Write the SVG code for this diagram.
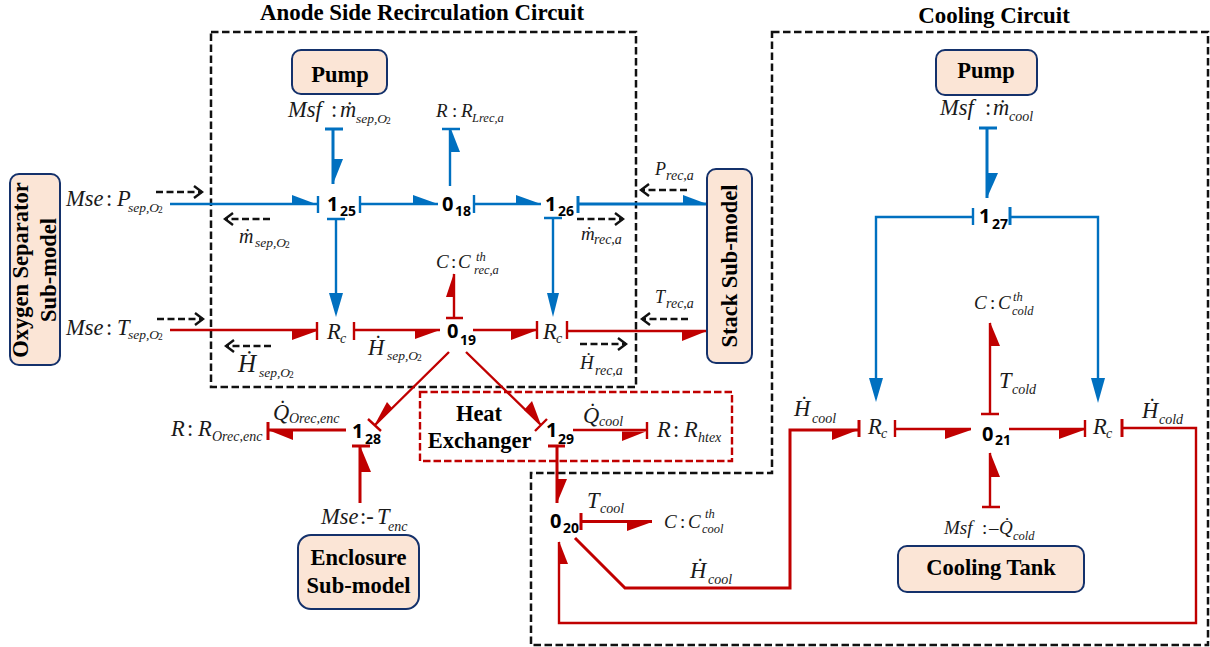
<svg xmlns="http://www.w3.org/2000/svg" width="1210" height="647" viewBox="0 0 1210 647">
<style>
text{font-family:"Liberation Serif","Times New Roman",serif;fill:#1a1a1a}
.box{fill:#fbe5d6;stroke:#14316b;stroke-width:2}
.t{font-size:22.5px;font-weight:bold;fill:#000;text-anchor:middle}
.h{font-size:22.9px}
.dash{fill:none;stroke:#111;stroke-width:2.5;stroke-dasharray:7.5 3.5}
.hx{fill:none;stroke:#c00000;stroke-width:2.4;stroke-dasharray:7.5 3}
.j{font-family:"Noto Sans","Open Sans",sans-serif;font-weight:bold;font-size:20px;fill:#000}
.j tspan{font-size:14px}
.i{font-style:italic;font-size:22.5px}
.sm{font-style:italic;font-size:14px}
.n{font-style:normal}
.s{font-size:13.5px}
.o{font-size:9.5px;font-style:normal}
.b{fill:none;stroke:#0070c0;stroke-width:2.4}
.bt{stroke-width:3}
.r{fill:none;stroke:#c00000;stroke-width:2.4}
.rt{stroke-width:3}
.bf{fill:#0070c0;stroke:none}
.rf{fill:#c00000;stroke:none}
.sig{fill:none;stroke:#111;stroke-width:2.4;stroke-dasharray:7 3.5;marker-end:url(#chev)}
</style>
<defs>
<marker id="chev" markerUnits="userSpaceOnUse" markerWidth="14" markerHeight="16" refX="11" refY="7" orient="auto" viewBox="0 0 14 14">
<path d="M3 1L11 7L3 13" fill="none" stroke="#111" stroke-width="2.4"/>
</marker>
</defs>

<g id="boundaries">
<rect class="dash" x="211" y="32" width="425" height="355"/>
<path class="dash" d="M772 32H1208V645H531V473H772Z"/>
<rect class="hx" x="420" y="392" width="312" height="69"/>
<text class="t h" x="422" y="20">Anode Side Recirculation Circuit</text>
<text class="t h" x="994" y="23">Cooling Circuit</text>
</g>

<g id="connectors">
<path class="b" d="M170 204H318M318 196V213"/><path class="bf" d="M292 195L316 204H292Z"/>
<path class="b bt" d="M333 129V184M325 129H343"/><path class="bf" d="M333 184L343 159H334Z"/>
<path class="b" d="M360 204H438M360 196V213"/><path class="bf" d="M413 195L438 204H413Z"/>
<path class="b" d="M474 204H541M474 195V213"/><path class="bf" d="M516 195L541 204H516Z"/>
<path class="b bt" d="M578 204H707M578 196V213"/><path class="bf" d="M683 195L707 204H683Z"/>
<path class="b" d="M336 219V295M327 219H345"/><path class="bf" d="M329 293H343L336 317Z"/>
<path class="b" d="M553 218V295M544 218H562"/><path class="bf" d="M547 293H559L553 317Z"/>
<path class="b" d="M450 186V129M442 129H460"/><path class="bf" d="M451 129L460 152H451Z"/>
<path class="r" d="M170 330H317M317 322V340"/><path class="rf" d="M292 331L317 331L292 340Z"/>
<path class="r" d="M354 330H440M354 322V340"/><path class="rf" d="M415 331L440 330L415 339Z"/>
<path class="r" d="M454 318V274M446 318H463"/><path class="rf" d="M454 273V297H446Z"/>
<path class="r" d="M473 330H537M537 321V339"/><path class="rf" d="M511 331H535L511 340Z"/>
<path class="r" d="M567 331H707M567 321V339"/><path class="rf" d="M682 332L707 331L682 341Z"/>
<path class="r" d="M449 352L374 426M368 419L381 431"/><path class="rf" d="M374 426L387 402L392 408Z"/>
<path class="r" d="M466 352L541 425M535 431L547 419"/><path class="rf" d="M541 425L532 401L524 410Z"/>
<path class="r rt" d="M346 430H268M268 422V440"/><path class="rf" d="M268 430L293 440V430Z"/>
<path class="r rt" d="M360 503V446M352 446H370"/><path class="rf" d="M361 448L371 472H361Z"/>
<path class="r" d="M573 430H647M647 422V439"/><path class="rf" d="M622 431.5H646L622 441Z"/>
<path class="r rt" d="M557 503V446M548 446H565"/><path class="rf" d="M557 503L567 479H557Z"/>
<path class="r rt" d="M581 521.500H652M581 513V530"/><path class="rf" d="M627 523L652 522L627 531Z"/>
<path class="r rt" d="M575 538L625 588H790V430H859M859 420V437"/><path class="rf" d="M832 431L858 430L832 440Z"/>
<path class="r" d="M1122 428H1196V623H559V542"/><path class="r rt" d="M1122 419V437"/><path class="rf" d="M559 541L568 564H559Z"/>
<path class="r" d="M895 429H971M895 420V437"/><path class="rf" d="M945 439L971 430H945Z"/>
<path class="r" d="M1009 429H1085M1085 420V437"/><path class="rf" d="M1059 430H1084L1059 439Z"/>
<path class="r" d="M990 414V323M981 414H999"/><path class="rf" d="M990 322L1000 346H990Z"/>
<path class="r" d="M990 507V453M982 507H1000"/><path class="rf" d="M990 452L1000 477H990Z"/>
<path class="b bt" d="M987 128V198M979 128H997"/><path class="bf" d="M987 198L998 173H987Z"/>
<path class="b" d="M973 217H876V380M973 208V225"/><path class="bf" d="M869 378H883L876 402Z"/>
<path class="b" d="M1010 217H1098V380"/><path class="b bt" d="M1010 207V225"/><path class="bf" d="M1091 378H1105L1098 403Z"/>
<path class="sig" d="M156 192H202"/>
<path class="sig" d="M270 219H225"/>
<path class="sig" d="M157 319H203"/>
<path class="sig" d="M271 346H226"/>
<path class="sig" d="M687 190H641"/>
<path class="sig" d="M577 219H623"/>
<path class="sig" d="M688 319H642"/>
<path class="sig" d="M580 344H626"/>
</g>

<g id="oxygen-separator"><rect class="box" x="10" y="174" width="50" height="191" rx="9"/>
<text class="t" transform="translate(28 270) rotate(-90)">Oxygen Separator</text>
<text class="t" transform="translate(56 270) rotate(-90)">Sub-model</text></g>
<g id="stack"><rect class="box" x="707" y="169" width="45" height="194" rx="9"/>
<text class="t" transform="translate(737 266) rotate(-90)">Stack Sub-model</text></g>
<g id="pump-anode"><rect class="box" x="292" y="50" width="95" height="44" rx="9"/>
<text class="t" x="340" y="82">Pump</text></g>
<g id="pump-cooling"><rect class="box" x="936" y="50" width="101" height="45" rx="9"/>
<text class="t" x="986" y="78">Pump</text></g>
<g id="enclosure"><rect class="box" x="298" y="535" width="121" height="74" rx="13"/>
<text class="t" x="358.500" y="565">Enclosure</text><text class="t" x="358.500" y="593">Sub-model</text></g>
<g id="cooling-tank"><rect class="box" x="898" y="546" width="186" height="46" rx="9"/>
<text class="t" x="991" y="575">Cooling Tank</text></g>
<g id="heat-exchanger"><text class="t" x="479" y="421">Heat</text><text class="t" x="479.500" y="448">Exchanger</text></g>

<g id="j125"><text class="j" x="327" y="211">1<tspan x="340" y="216">25</tspan></text></g>
<g id="j018"><text class="j" x="442" y="211">0<tspan x="455" y="216">18</tspan></text></g>
<g id="j126"><text class="j" x="545" y="211">1<tspan x="558" y="216">26</tspan></text></g>
<g id="j019"><text class="j" x="447" y="338">0<tspan x="460" y="345">19</tspan></text></g>
<g id="j128"><text class="j" x="352" y="438">1<tspan x="365" y="444">28</tspan></text></g>
<g id="j129"><text class="j" x="546" y="437">1<tspan x="558" y="444">29</tspan></text></g>
<g id="j020"><text class="j" x="550" y="528">0<tspan x="563" y="533">20</tspan></text></g>
<g id="j021"><text class="j" x="982" y="441">0<tspan x="995" y="445">21</tspan></text></g>
<g id="j127"><text class="j" x="979" y="223">1<tspan x="992" y="229">27</tspan></text></g>

<g id="labels-anode">
<text class="i" x="66" y="206">Mse<tspan class="n" x="106">:</tspan><tspan x="117">P</tspan><tspan class="s" x="128" y="212">sep,O</tspan><tspan class="o" x="158" y="213">2</tspan></text>
<text class="i" x="66" y="335">Mse<tspan class="n" x="106">:</tspan><tspan x="117">T</tspan><tspan class="s" x="128" y="339">sep,O</tspan><tspan class="o" x="158" y="340">2</tspan></text>
<text class="i" x="288" y="117">Msf<tspan class="n" x="331">:</tspan><tspan x="340">ṁ</tspan><tspan class="s" x="356" y="123">sep,O</tspan><tspan class="o" x="386" y="124">2</tspan></text>
<text class="i" x="436" y="117" style="font-size:19px">R<tspan class="n" x="452">:</tspan><tspan x="461">R</tspan><tspan class="sm" style="font-size:12.500px" x="472" y="122">Lrec,a</tspan></text>
<text class="i" x="239" y="243" style="font-size:20px">ṁ<tspan class="s" x="255" y="247">sep,O</tspan><tspan class="o" x="285" y="248">2</tspan></text>
<text class="i" x="238" y="372" style="font-size:25px">Ḣ<tspan class="s" x="259" y="377">sep,O</tspan><tspan class="o" x="289" y="378">2</tspan></text>
<text class="i" x="368" y="355">Ḣ<tspan class="s" x="387" y="360">sep,O</tspan><tspan class="o" x="417" y="361">2</tspan></text>
<text class="i" x="327" y="339">R<tspan class="sm" x="340" y="343">c</tspan></text>
<text class="i" x="543" y="339">R<tspan class="sm" x="556" y="343">c</tspan></text>
<text class="i" x="436" y="268" style="font-size:19px">C<tspan class="n" x="451">:</tspan><tspan x="458">C</tspan><tspan class="sm" style="font-size:12.500px" x="476" y="261">th</tspan><tspan class="sm" style="font-size:12.500px" x="474" y="274">rec,a</tspan></text>
<text class="i" x="655" y="175" style="font-size:18px">P<tspan class="sm" x="666" y="180">rec,a</tspan></text>
<text class="i" x="581" y="240" style="font-size:19px">ṁ<tspan class="sm" x="594" y="244">rec,a</tspan></text>
<text class="i" x="655" y="303" style="font-size:18px">T<tspan class="sm" x="666" y="308">rec,a</tspan></text>
<text class="i" x="580" y="369" style="font-size:19px">Ḣ<tspan class="sm" x="595" y="375">rec,a</tspan></text>
<text class="i" x="171" y="436">R<tspan class="n" x="187">:</tspan><tspan x="198">R</tspan><tspan class="sm" x="212" y="441">Orec,enc</tspan></text>
<text class="i" x="273" y="420">Q̇<tspan class="sm" x="289" y="423">Orec,enc</tspan></text>
<text class="i" x="321" y="524">Mse<tspan class="n" x="360">:-</tspan><tspan x="377">T</tspan><tspan class="sm" x="388" y="531">enc</tspan></text>
<text class="i" x="583" y="423">Q̇<tspan class="sm" x="599" y="426">cool</tspan></text>
<text class="i" x="657" y="437">R<tspan class="n" x="673">:</tspan><tspan x="684">R</tspan><tspan class="sm" x="698" y="442">htex</tspan></text>
</g>
<g id="labels-cooling">
<text class="i" x="587" y="508">T<tspan class="sm" x="600" y="513">cool</tspan></text>
<text class="i" x="664" y="528" style="font-size:19px">C<tspan class="n" x="680">:</tspan><tspan x="688">C</tspan><tspan class="sm" style="font-size:12.500px" x="705" y="518">th</tspan><tspan class="sm" style="font-size:12.500px" x="702" y="533">cool</tspan></text>
<text class="i" x="690" y="578">Ḣ<tspan class="sm" x="708" y="584">cool</tspan></text>
<text class="i" x="794" y="416">Ḣ<tspan class="sm" x="812" y="423">cool</tspan></text>
<text class="i" x="1142" y="418">Ḣ<tspan class="sm" x="1159" y="424">cold</tspan></text>
<text class="i" x="868" y="434">R<tspan class="sm" x="881" y="438">c</tspan></text>
<text class="i" x="1093" y="434">R<tspan class="sm" x="1106" y="438">c</tspan></text>
<text class="i" x="974" y="309" style="font-size:19px">C<tspan class="n" x="990">:</tspan><tspan x="998">C</tspan><tspan class="sm" style="font-size:12.500px" x="1013" y="301">th</tspan><tspan class="sm" style="font-size:12.500px" x="1012" y="315">cold</tspan></text>
<text class="i" x="999" y="388">T<tspan class="sm" x="1012" y="394">cold</tspan></text>
<text class="i" x="944" y="534" style="font-size:19px">Msf<tspan class="n" x="982">:</tspan><tspan class="n" x="989">–</tspan><tspan x="999">Q̇</tspan><tspan class="sm" style="font-size:12.500px" x="1013" y="540">cold</tspan></text>
<text class="i" x="940" y="115">Msf<tspan class="n" x="985">:</tspan><tspan x="993">ṁ</tspan><tspan class="sm" x="1009" y="121">cool</tspan></text>
</g>
</svg>
